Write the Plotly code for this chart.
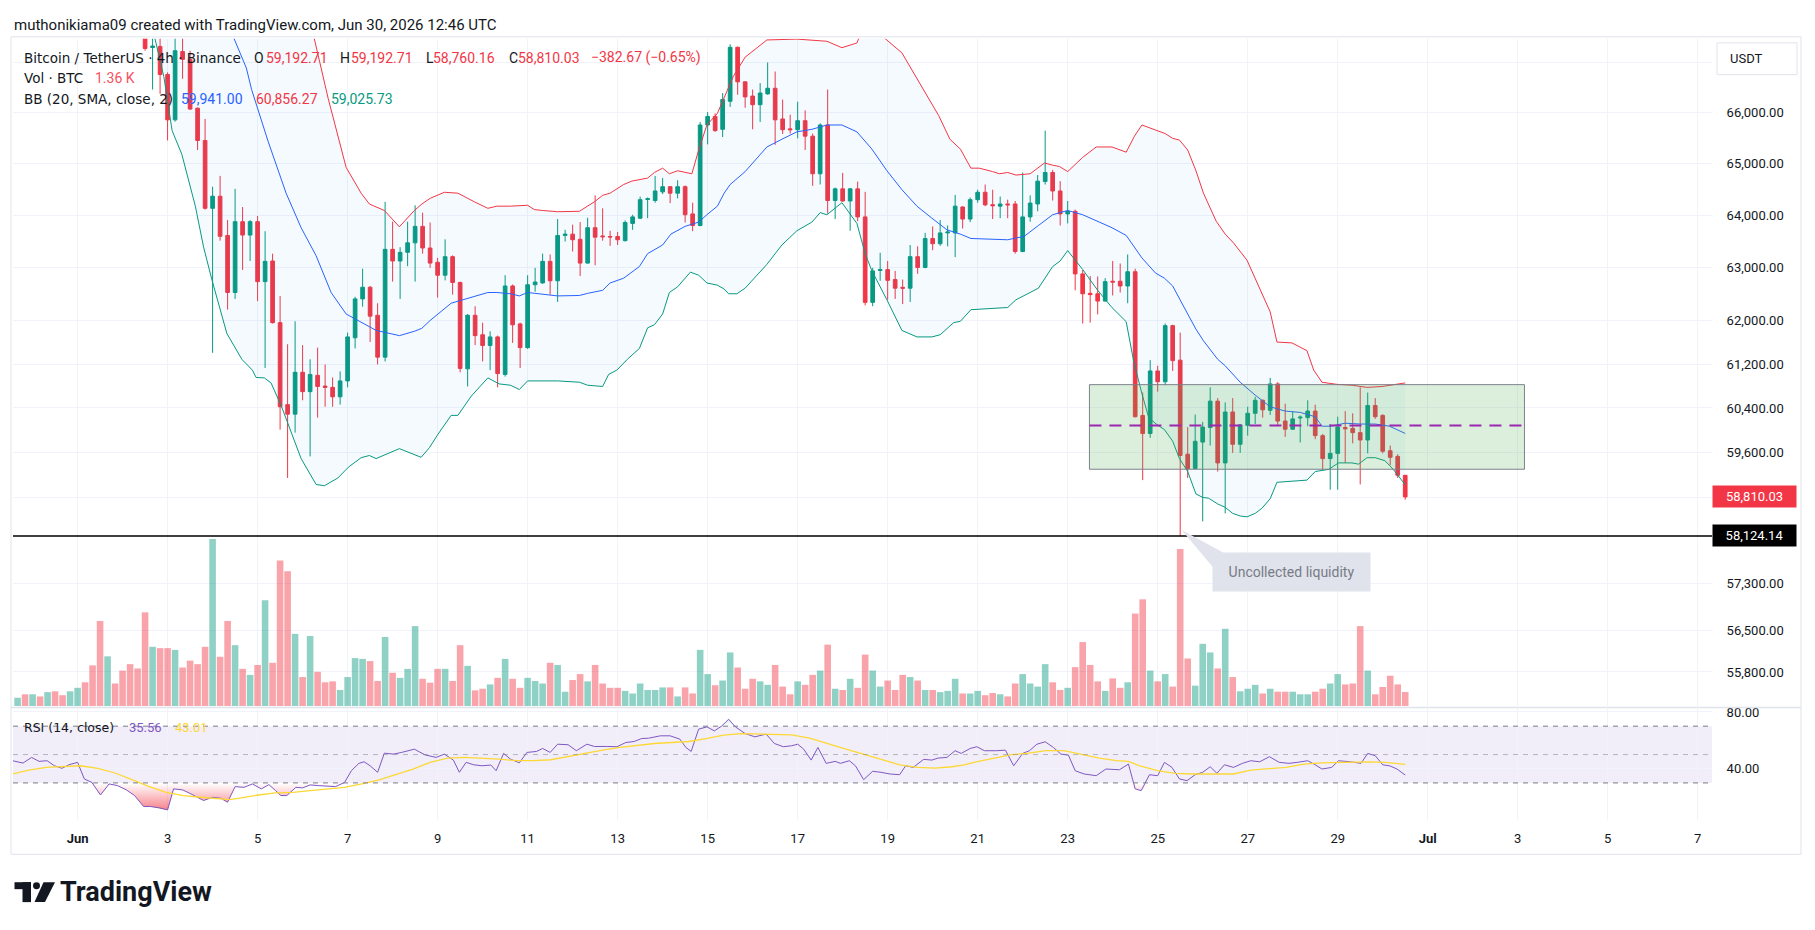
import math
import numpy as np
import pandas as pd
import plotly.graph_objects as go

W, H = 1815, 930
T0 = pd.Timestamp("2026-06-01 00:00:00")   # bar index 0
FIRST_BAR = -8                              # first 4h bar in view

# ---------------- BTC/USDT 4h candles (index -8 .. 177) ----------------
opens = [69900, 70150, 69950, 70300, 70100, 70400, 70200, 70050, 70250, 70500, 70300, 69800, 68700, 69100, 68900, 68500, 68200,
         67900, 67300, 67322, 66757, 65855, 67218, 67061, 66086, 65448, 64130, 64363, 63610, 62530, 63873, 63617,
         63873, 62734, 63124, 61967, 60461, 60289, 61051, 60697, 60995, 60799, 60775, 60603, 60893, 61686, 62410, 62628,
         62104, 61329, 63345, 63124, 63288, 63469, 63783, 63370, 63100, 62855, 63206, 62718, 61114, 62104, 61742,
         61543, 61702, 61011, 62652, 61943, 61504, 62676, 62710, 63117, 62750, 63610, 63634, 63535, 63084, 63758, 63600,
         63590, 63590, 63510, 63840, 63940, 64300, 64280, 64447, 64547, 64422, 64547, 64022, 63800, 65753, 65923, 65668,
         66223, 67304, 66610, 66327, 66155, 66370, 66482, 65872, 65677, 65660, 65838, 65533, 64798, 65753, 64280, 64505,
         64271, 64505, 63965, 62345, 62945, 62961, 62774, 62627, 62611, 63206, 63002, 63551, 63452, 63658, 63658,
         64155, 63923, 64296, 64439, 64200, 64171, 64213, 64213, 63304, 63965, 64213, 64647, 64823, 64464, 64022, 64072,
         62880, 62514, 62506, 62369, 62742, 62742, 62652, 62921, 60265, 59940, 61075, 60877, 61911, 61273, 59568, 59313,
         59785, 60047, 60524, 59413, 60327, 59746, 60086, 60304, 60540, 60359, 60838, 60164, 60016, 60219, 60226, 60344,
         59901, 59490, 59583, 60047, 60032, 59955, 59823, 60446, 60265, 59630, 59529, 59192.71]
highs = [70300, 70250, 70400, 70450, 70550, 70500, 70300, 70350, 70650, 70600, 70400, 69950, 69250, 69200, 69000, 68600, 68300,
         67950, 67700, 67650, 66800, 67600, 67496, 67235, 66100, 65872, 64547, 64756, 63906, 64505, 64154, 63906,
         63981, 63691, 63263, 62466, 61567, 61992, 61551, 61289, 61504, 61194, 60956, 61067, 61782, 62450, 62978, 62652,
         62329, 64255, 63873, 63386, 63873, 64188, 64046, 63857, 63182, 63535, 63230, 62734, 62128, 62273, 61967,
         61806, 61726, 62855, 62680, 61967, 62855, 62994, 63263, 63247, 63923, 63717, 63816, 63865, 63948, 64380, 64130,
         63700, 63676, 63898, 64006, 64355, 64338, 64756, 64714, 64560, 64672, 64572, 64238, 65813, 66009, 65983, 66387,
         67366, 67320, 66620, 66456, 66584, 66999, 66817, 66257, 65957, 66214, 66043, 65583, 65787, 66456, 64530, 64815,
         64522, 64647, 64447, 62994, 63280, 63124, 62937, 62774, 63427, 63403, 63658, 63783, 63906, 63800, 64388,
         64171, 64338, 64489, 64589, 64489, 64355, 64296, 64271, 64823, 64380, 64773, 65643, 64873, 64655, 64271, 64105,
         62953, 62839, 62831, 62799, 63124, 63076, 63247, 62978, 60681, 61273, 61170, 61951, 61930, 61782, 60055, 60281,
         60148, 60775, 60579, 60501, 60579, 60110, 60422, 60603, 60555, 60948, 60869, 60477, 60344, 60265, 60540, 60461,
         59932, 60110, 60242, 60344, 60304, 60775, 60681, 60579, 60289, 59723, 59568, 59192.71]
lows = [69800, 69850, 69850, 70000, 70000, 70100, 69950, 69950, 70150, 70200, 69700, 68500, 68600, 68800, 68400, 68100, 67800,
        67235, 66456, 66370, 65448, 65820, 66670, 66050, 65262, 64105, 61408, 63510, 62209, 62410, 62955, 63124,
        62369, 61130, 61950, 60009, 59145, 59955, 60540, 59529, 60226, 60422, 60422, 60461, 60775, 61488, 62265, 61607,
        61194, 61250, 62734, 62410, 63026, 62734, 63263, 62994, 62434, 62758, 62490, 61051, 60791, 61551, 61250,
        61091, 60775, 60972, 61591, 61130, 61480, 62546, 62694, 62490, 62353, 63494, 63304, 62839, 63076, 63043, 63510,
        63411, 63428, 63494, 63717, 63923, 63940, 64238, 64405, 64230, 64322, 63857, 63691, 63783, 65372, 65617, 65516,
        66111, 66353, 66094, 65668, 65813, 66353, 65363, 65575, 65583, 65490, 65262, 64564, 64589, 64030, 63923, 64255,
        63700, 63882, 62289, 62273, 62750, 62394, 62410, 62313, 62353, 62881, 62986, 63329, 63411, 63403, 63198,
        63742, 63865, 64238, 64171, 63923, 63940, 63940, 63263, 63290, 63873, 64072, 64589, 64280, 63800, 63840, 62571,
        61951, 61967, 62120, 62360, 62474, 62530, 62329, 60230, 59107, 59862, 60697, 60815, 61075, 58124.14, 59145, 59300,
        58380, 59723, 59259, 58520, 59592, 59592, 59901, 60110, 60226, 60273, 60086, 59878, 60008, 59778, 60071, 59839,
        59297, 58936, 58936, 59413, 59762, 59030, 59583, 60203, 59583, 59374, 59145, 58760.16]
closes = [70150, 69950, 70300, 70100, 70400, 70200, 70050, 70250, 70500, 70300, 69800, 68700, 69100, 68900, 68500, 68200, 67900,
          67280, 67330, 66757, 65855, 67235, 67061, 66069, 65448, 64130, 64363, 63593, 62530, 63873, 63617, 63873,
          62734, 63117, 61967, 60422, 60289, 61051, 60697, 61011, 60791, 60775, 60603, 60893, 61702, 62410, 62628, 62088,
          61329, 63345, 63124, 63288, 63469, 63783, 63370, 63084, 62855, 63206, 62718, 61122, 62104, 61726, 61543,
          61702, 61027, 62652, 61927, 61504, 62676, 62726, 63117, 62750, 63610, 63634, 63527, 63084, 63758, 63577, 63585,
          63580, 63527, 63857, 63965, 64296, 64313, 64464, 64547, 64422, 64547, 64006, 63800, 65753, 65923, 65643, 66257,
          67304, 66610, 66310, 66155, 66387, 66482, 65855, 65660, 65660, 65838, 65533, 64798, 65753, 64280, 64505, 64271,
          64505, 63965, 62345, 62937, 62961, 62758, 62611, 62611, 63206, 63002, 63551, 63452, 63658, 63675, 64171,
          63923, 64296, 64439, 64196, 64180, 64213, 64196, 63304, 63965, 64230, 64655, 64823, 64464, 64022, 64072, 62880,
          62506, 62490, 62369, 62734, 62726, 62652, 62921, 60242, 59940, 61075, 60877, 61911, 61265, 59545, 59313, 59800,
          60055, 60524, 59413, 60327, 59746, 60094, 60304, 60540, 60367, 60838, 60164, 60016, 60203, 60234, 60344, 59901,
          59490, 59583, 60055, 60024, 59955, 59823, 60446, 60242, 59622, 59513, 59192.71, 58810.03]
volume_k = [0.80, 1.14, 1.14, 0.93, 1.35, 1.43, 1.05, 1.43, 1.77, 2.31, 3.96, 8.29, 4.84, 2.19, 3.45, 4.08, 3.66,
            9.13, 5.77, 5.64, 5.64, 5.47, 3.75, 4.42, 4.08, 5.77, 16.29, 4.80, 8.29, 5.93, 3.62, 3.03,
            4.00, 10.31, 4.21, 14.18, 13.13, 7.03, 2.82, 6.82, 3.33, 2.31, 2.40, 1.56, 2.82, 4.67, 4.59, 4.38,
            2.44, 6.73, 3.24, 2.74, 3.62, 7.79, 2.65, 2.27, 3.62, 3.62, 2.44, 5.93, 3.91, 1.52, 1.68,
            2.10, 2.74, 4.59, 2.65, 1.77, 2.74, 2.44, 2.19, 4.21, 4.00, 1.39, 2.53, 3.11, 2.40, 4.00, 2.19,
            1.77, 1.77, 1.47, 1.22, 2.19, 1.56, 1.56, 1.81, 1.81, 0.93, 1.81, 1.22, 5.47, 3.11, 2.02, 2.48,
            5.22, 3.75, 1.68, 2.65, 2.40, 2.06, 4.00, 1.89, 1.14, 2.40, 2.06, 3.03, 3.45, 5.98, 1.68, 1.56,
            2.65, 1.77, 5.01, 3.45, 1.89, 2.48, 1.56, 3.03, 2.82, 2.48, 1.56, 1.56, 1.35, 1.47, 2.65,
            1.22, 1.22, 1.47, 1.05, 1.26, 1.14, 0.93, 2.19, 3.11, 2.19, 1.89, 4.08, 2.31, 1.56, 1.77, 3.79,
            6.23, 4.00, 2.40, 1.47, 2.69, 1.77, 2.31, 9.01, 10.40, 3.45, 2.40, 3.11, 1.89, 15.32, 4.63, 1.98,
            6.06, 5.22, 3.66, 7.53, 2.82, 1.43, 1.68, 2.06, 1.22, 1.68, 1.39, 1.39, 1.39, 1.14, 1.14, 1.39,
            1.68, 2.19, 3.11, 2.10, 2.19, 7.79, 3.45, 1.14, 1.85, 2.95, 2.10, 1.36]

# ---------------- Bollinger Bands (20, SMA, close, 2), read at bar positions ----------------
bb_upper_idx = [-8, 10, 20, 24, 28, 31.4, 33.4, 35.8, 37.8, 38.9, 40.9, 42.9, 44.9, 45.9, 47.0, 48.9, 50.7, 52.9, 54.7,
                55.9, 57.7, 60.0, 60.9, 62.0, 64.0, 66.9, 68.9, 70.0, 71.0, 72.8, 73.9, 76.0, 76.9, 78.0, 78.9, 80.0,
                81.9, 82.8, 83.9, 85.3, 86.2, 87.4, 89.0, 91.9, 95.9, 99.9, 101.9, 103.9, 104.3, 105.5, 106.4, 107.2,
                109.9, 111.9, 114.8, 116.3, 117.7, 119.1, 120.2, 122.0, 122.9, 124.0, 125.1, 127.0, 128.9, 130.0,
                130.9, 132.0, 134.0, 135.8, 137.9, 139.8, 140.9, 141.9, 145.0, 146.0, 146.9, 148.0, 149.1, 150.1,
                151.8, 153.0, 154.1, 155.9, 157.9, 159.0, 159.9, 161.9, 163.9, 164.8, 165.9, 167.9, 169.9, 171.9,
                173.9, 175.9, 177]
bb_upper_val = [71000, 71500, 71800, 71000, 69700, 67583, 66284, 64923, 64422, 64213, 64088, 63775, 64088, 64213, 64322,
                64439, 64422, 64255, 64130, 64171, 64171, 64188, 64105, 64088, 64064, 64072, 64255, 64380, 64422, 64589,
                64656, 64714, 64823, 64907, 64798, 64857, 64798, 65262, 65753, 65983, 66284, 66713, 67105, 67453, 67470,
                67426, 67296, 67392, 67540, 67900, 67850, 67540, 67192, 66670, 65940, 65473, 65279, 64907, 64907, 64840,
                64798, 64823, 64773, 64798, 65007, 64965, 64940, 64840, 65118, 65321, 65321, 65219, 65533, 65753, 65584,
                65490, 65457, 65262, 64857, 64422, 63882, 63635, 63469, 63141, 62490, 62168, 61607, 61591, 61448, 61091,
                60869, 60830, 60814, 60775, 60791, 60838, 60856.27]
bb_mid_idx = [-8, 12, 17, 20.6, 22.5, 23.2, 25.4, 27.8, 29.8, 31.8, 33.8, 35.8, 37.8, 39.8, 42.9, 44.9, 45.9, 47.0, 49.8,
              54.7, 55.9, 57.7, 58.9, 60.0, 64.0, 66.9, 68.0, 70.0, 71.0, 72.8, 74.9, 76.0, 78.0, 79.1, 81.0, 82.8, 83.9,
              85.3, 86.2, 87.0, 89.0, 91.9, 93.9, 95.9, 97.9, 99.9, 101.9, 103.9, 105.9, 107.9, 109.9, 111.9, 113.9,
              115.9, 117.7, 119.1, 124.0, 126.2, 128.1, 130.0, 132.0, 134.0, 137.9, 139.8, 141.9, 143.7, 144.9, 146.0,
              148.0, 149.1, 150.1, 152.0, 153.0, 155.0, 157.0, 159.0, 161.0, 163.0, 165.0, 165.9, 167.0, 169.0, 171.0,
              173.0, 174.9, 177]
bb_mid_val = [70100, 69800, 68900, 67583, 66887, 66456, 65431, 64422, 63758, 63223, 62530, 62128, 61968, 61823, 61726,
              61806, 61862, 62007, 62329, 62530, 62530, 62506, 62466, 62530, 62466, 62474, 62514, 62571, 62709, 62799,
              63019, 63264, 63428, 63635, 63784, 63865, 64006, 64171, 64422, 64589, 64840, 65321, 65473, 65618, 65668,
              65753, 65753, 65618, 65279, 64857, 64489, 64171, 63940, 63717, 63635, 63552, 63527, 63593, 63800, 64006,
              64088, 64006, 63758, 63610, 63182, 62897, 62799, 62652, 62128, 61846, 61631, 61289, 61170, 60869, 60634,
              60422, 60344, 60320, 60242, 60071, 60071, 60125, 60110, 60110, 60071, 59941.00]
bb_lower_idx = [-8, 4, 8, 10.2, 11.5, 12.6, 13.9, 15.7, 16.8, 17.9, 19.9, 21.9, 23.3, 23.8, 24.9, 25.8, 27.2, 29.8, 31.8,
                32.9, 34.7, 36.1, 37.8, 38.9, 39.8, 42.9, 45.8, 46.9, 48.0, 49.8, 50.7, 52.5, 54.7, 56.2, 57.7, 58.9,
                60.0, 64.0, 66.9, 68.0, 70.0, 70.8, 71.9, 73.3, 74.9, 76.0, 76.9, 78.0, 78.9, 80.0, 81.7, 82.8, 83.9,
                85.3, 86.2, 86.8, 87.9, 89.0, 91.9, 93.9, 95.9, 97.9, 99.0, 99.9, 101.9, 103.9, 105.0, 105.9, 107.9,
                109.9, 111.9, 113.9, 115.0, 116.8, 117.7, 119.1, 124.0, 125.1, 126.7, 128.1, 130.0, 131.0, 132.0,
                134.0, 136.0, 137.9, 139.8, 140.8, 141.9, 142.8, 143.8, 144.9, 146.0, 146.9, 148.0, 149.1, 150.0,
                150.8, 152.0, 153.0, 154.0, 155.0, 155.9, 157.0, 157.9, 159.0, 159.9, 161.9, 163.9, 165.0, 166.8,
                168.1, 169.9, 170.8, 171.9, 173.0, 174.3, 175.4, 177]
bb_lower_val = [69400, 69600, 69000, 67583, 66713, 65643, 65177, 64171, 63386, 62775, 61766, 61289, 61091, 60956, 60948,
                60854, 60422, 59490, 59030, 59007, 59145, 59336, 59506, 59545, 59490, 59668, 59513, 59684, 59916, 60266,
                60266, 60618, 60948, 60838, 60814, 60736, 60893, 60893, 60869, 60814, 60791, 61011, 61091, 61289, 61488,
                61871, 61927, 62128, 62530, 62636, 62913, 62855, 62709, 62668, 62595, 62506, 62506, 62611, 63060, 63428,
                63700, 63865, 64047, 64006, 64238, 63840, 63264, 62937, 62393, 61822, 61702, 61702, 61742, 61967, 61992,
                62208, 62249, 62393, 62506, 62611, 63019, 63125, 63321, 62962, 62571, 62249, 61984, 61250, 60658, 60227,
                60109, 60009, 59800, 59490, 59259, 58862, 58801, 58786, 58686, 58626, 58520, 58474, 58459, 58520, 58610,
                58778, 59068, 59091, 59107, 59259, 59298, 59413, 59413, 59390, 59506, 59506, 59452, 59298, 59025.73]

# ---------------- RSI (14, close) and its MA ----------------
rsi_idx = [-8.66, -7.28, -6.13, -5.14, -4.07, -3.08, -2.08, -1.16, 0, 0.9, 1.9, 3.05, 4.2, 5.34, 6.5, 7.6, 8.8, 9.7,
           10.9, 12.0, 12.8, 14.0, 15.1, 16.8, 18.0, 19.1, 20.0, 21.0, 22.2, 23.3, 24.5, 25.5, 26.4, 27.1, 27.9, 29.1,
           30.0, 31.0, 32.1, 33.3, 34.4, 35.6, 36.5, 37.5, 38.2, 39.0, 40.0, 40.9, 42.1, 43.2, 44.9, 46.3, 47.8, 48.9,
           50.1, 50.9, 51.8, 52.8, 53.9, 55.1, 55.8, 56.8, 57.7, 58.9, 59.9, 61.2, 62.0, 63.0, 64.0, 65.4, 66.5, 67.9,
           68.9, 70.7, 71.9, 73.1, 74.2, 75.2, 76.1, 77.7, 79.0, 80.3, 81.1, 81.8, 82.8, 83.9, 84.9, 85.9, 86.8, 87.7,
           89.0, 90.3, 91.8, 92.9, 94.1, 95.2, 96.0, 96.8, 97.8, 98.7, 99.8, 101.0, 101.7, 102.9, 103.7, 104.8, 106.0,
           107.1, 108.3, 109.6, 110.4, 111.4, 112.8, 113.9, 114.7, 115.9, 117.0, 117.8, 119.0, 119.9, 120.9, 122.5,
           123.7, 124.8, 126.0, 126.9, 127.9, 129.0, 130.1, 131.1, 132.1, 133.0, 134.2, 135.8, 137.1, 138.9, 140.1,
           141.0, 141.8, 142.9, 144.0, 144.9, 145.9, 146.9, 147.9, 149.0, 150.0, 151.0, 151.9, 152.9, 154.1, 155.3,
           156.4, 157.6, 158.9, 160.2, 161.5, 162.6, 164.0, 165.0, 165.9, 167.2, 168.1, 169.7, 171.1, 172.0, 173.0,
           174.0, 175.0, 175.9, 177]
rsi_val = [45.65, 44.0, 48.0, 45.2, 45.65, 42.1, 40.3, 42.8, 44.5, 32.8, 30.4, 21.5, 29.3, 28.1, 25.1, 21.1, 13.4, 13.4,
           12.4, 11.0, 25.8, 25.1, 22.3, 17.6, 19.9, 19.2, 16.4, 27.4, 26.9, 29.3, 25.8, 28.8, 24.6, 21.1, 21.1, 26.9,
           26.5, 28.6, 28.1, 27.6, 27.4, 30.4, 38.6, 43.8, 44.9, 42.1, 37.5, 51.0, 50.3, 51.5, 53.8, 49.8, 48.0, 50.3,
           46.1, 37.5, 44.5, 42.8, 42.1, 42.6, 38.6, 50.8, 46.8, 44.2, 51.5, 52.2, 54.3, 51.5, 57.3, 56.9, 52.7, 57.3,
           55.7, 55.7, 55.5, 58.5, 59.2, 61.3, 61.5, 63.2, 63.2, 60.85, 55.0, 52.2, 67.9, 69.5, 66.7, 70.2, 74.9, 69.5,
           64.8, 62.5, 64.4, 57.8, 55.5, 56.2, 57.3, 53.8, 46.1, 55.0, 43.8, 45.2, 43.8, 45.65, 42.1, 32.3, 38.2,
           37.5, 36.3, 35.8, 42.1, 40.95, 46.6, 46.1, 47.5, 48.0, 52.7, 50.8, 54.3, 55.5, 52.7, 52.7,
           53.1, 42.1, 50.8, 52.7, 57.3, 59.0, 55.0, 50.3, 49.6, 38.6, 36.3, 35.1, 39.8, 39.3, 43.3,
           25.8, 24.6, 35.8, 35.1, 44.5, 40.95, 32.8, 31.6, 35.8, 37.5, 41.4, 36.8, 42.8, 40.95, 43.8,
           45.65, 44.9, 48.5, 44.5, 43.8, 44.5, 45.65, 42.8, 39.8, 40.95, 45.65, 44.9, 43.8, 50.8, 49.2,
           42.8, 41.9, 39.8, 35.56]
rsi_ma_idx = [-8.66, -6.5, -4.2, -1.9, 0.37, 2.7, 5.0, 7.25, 9.55, 11.8, 14.1, 16.4, 18.7, 20.3, 21.8, 24.1, 26.4, 28.7,
              31.0, 33.3, 35.6, 37.9, 40.2, 42.4, 44.7, 47.0, 49.3, 51.6, 53.9, 56.2, 58.5, 60.8, 63.1, 65.4, 67.7, 70.0,
              72.3, 74.6, 76.9, 79.2, 81.5, 83.8, 86.1, 88.4, 90.7, 92.9, 95.2, 97.6, 99.8, 102.1, 104.4, 106.7, 109.6,
              112.0, 114.3, 116.6, 118.2, 119.8, 122.1, 124.5, 126.8, 129.1, 131.5, 133.8, 136.2, 138.5, 140.1, 141.6,
              144.0, 146.3, 148.6, 151.8, 154.1, 156.4, 158.8, 161.1, 163.5, 165.8, 168.9, 172.0, 174.3, 177]
rsi_ma_val = [36.3, 39.1, 40.95, 41.7, 42.1, 40.25, 37.0, 32.3, 27.4, 23.4, 21.1, 19.9, 18.7, 18.3, 19.4, 21.5, 22.95, 23.4,
              24.6, 25.8, 26.9, 29.3, 32.1, 35.8, 39.8, 44.5, 47.5, 48.0, 47.5, 46.8, 45.65, 45.65, 46.35, 48.7, 51.0,
              53.1, 55.0, 56.6, 57.8, 58.5, 59.2, 61.3, 63.65, 64.8, 64.4, 63.9, 63.9, 61.55, 57.8, 54.3, 50.8, 47.5,
              42.8, 40.95, 40.5, 41.4, 42.8, 44.9, 47.5, 49.9, 51.0, 52.7, 52.7, 50.3, 47.5, 45.65, 45.2, 42.1, 38.6,
              36.75, 36.3, 36.3, 36.3, 39.1, 40.25, 40.95, 43.3, 44.2, 44.5, 44.9, 44.5, 43.01]

# ---------------- drawings ----------------
zone_start_idx, zone_end_idx = 134.9, 192.9
zone_top, zone_bottom, zone_mid = 60825, 59300, 60084
liquidity_level = 58124.14
callout_tip = (147.2, 58228)
callout_base = [(152.3, 57440), (152.77, 57834)]
callout_center = (161.85, 57508)

day_ticks = ["2026-06-%02d" % d for d in range(1, 31, 2)] + ["2026-07-01", "2026-07-03", "2026-07-05", "2026-07-07"]
day_labels = ["<b>Jun</b>"] + [str(d) for d in range(3, 31, 2)] + ["<b>Jul</b>", "3", "5", "7"]
price_ticks = [55800, 56500, 57300, 58800, 59600, 60400, 61200, 62000, 63000, 64000, 65000, 66000, 67000]
hidden_price_labels = [58800, 67000]   # covered by the price box / currency box in the original

# ---------------- layout constants ----------------
PRICE_TOP, PRICE_BOTTOM = 67475, 55234
VOL_MAX = 65.06
RSI_LO, RSI_HI = 3.54, 82.14
VIEW_L, VIEW_R = -8.61, 217.9
UP, DOWN = "#089981", "#F23645"
GRID = "#f0f3fa"
TXT = "#131722"
WIDE = "DejaVu Sans, sans-serif"


def t(i):
    return (T0 + pd.Timedelta(hours=4 * i)).strftime("%Y-%m-%d %H:%M:%S")


def px(x):
    return x / W


def py(y):
    return 1 - y / H


bar_x = [t(FIRST_BAR + k) for k in range(len(opens))]
vol_colors = ["rgba(8,153,129,0.45)" if c >= o else "rgba(242,54,69,0.45)" for o, c in zip(opens, closes)]

fig = go.Figure()

# volume (base axis, drawn beneath price)
fig.add_trace(go.Bar(x=bar_x, y=volume_k, marker=dict(color=vol_colors, line=dict(width=0)),
                     xaxis="x", yaxis="y", hoverinfo="skip"))

# Bollinger bands
fig.add_trace(go.Scatter(x=[t(i) for i in bb_lower_idx], y=bb_lower_val, mode="lines",
                         line=dict(color=UP, width=1), yaxis="y2", hoverinfo="skip"))
fig.add_trace(go.Scatter(x=[t(i) for i in bb_upper_idx], y=bb_upper_val, mode="lines",
                         line=dict(color=DOWN, width=1), fill="tonexty", fillcolor="rgba(33,150,243,0.05)",
                         yaxis="y2", hoverinfo="skip"))
fig.add_trace(go.Scatter(x=[t(i) for i in bb_mid_idx], y=bb_mid_val, mode="lines",
                         line=dict(color="#2962FF", width=1), yaxis="y2", hoverinfo="skip"))

# consolidation zone
fig.add_trace(go.Scatter(
    x=[t(zone_start_idx), t(zone_end_idx), t(zone_end_idx), t(zone_start_idx), t(zone_start_idx)],
    y=[zone_top, zone_top, zone_bottom, zone_bottom, zone_top], mode="lines", fill="toself",
    fillcolor="rgba(76,175,80,0.2)", line=dict(color="rgba(120,123,134,0.95)", width=1),
    yaxis="y2", hoverinfo="skip"))

# liquidity level
fig.add_trace(go.Scatter(x=[t(VIEW_L), t(VIEW_R)], y=[liquidity_level, liquidity_level], mode="lines",
                         line=dict(color="#000000", width=1.5), yaxis="y2", hoverinfo="skip"))

# candles
fig.add_trace(go.Candlestick(
    x=bar_x, open=opens, high=highs, low=lows, close=closes, yaxis="y2", whiskerwidth=0,
    increasing=dict(line=dict(color=UP, width=1), fillcolor=UP),
    decreasing=dict(line=dict(color=DOWN, width=1), fillcolor=DOWN),
    hoverinfo="none"))

# dashed mid line of the zone
fig.add_trace(go.Scatter(x=[t(zone_start_idx), t(zone_end_idx)], y=[zone_mid, zone_mid], mode="lines",
                         line=dict(color="#9C27B0", width=2, dash="12px,8px"), yaxis="y2", hoverinfo="skip"))

# callout tail
fig.add_trace(go.Scatter(
    x=[t(callout_tip[0]), t(callout_base[0][0]), t(callout_base[1][0]), t(callout_tip[0])],
    y=[callout_tip[1], callout_base[0][1], callout_base[1][1], callout_tip[1]],
    mode="lines", fill="toself", fillcolor="#e0e3eb", line=dict(width=0, color="#e0e3eb"),
    yaxis="y2", hoverinfo="skip"))

# RSI fills
rsi_x = [t(i) for i in rsi_idx]
rsi_arr = np.array(rsi_val)
fig.add_trace(go.Scatter(x=rsi_x, y=[30] * len(rsi_x), mode="lines", line=dict(width=0), yaxis="y3", hoverinfo="skip"))
fig.add_trace(go.Scatter(x=rsi_x, y=np.minimum(rsi_arr, 30), mode="lines", line=dict(width=0), fill="tonexty",
                         fillgradient=dict(type="vertical", start=0, stop=30,
                                           colorscale=[[0, "rgba(242,54,69,1)"], [1, "rgba(242,54,69,0)"]]),
                         yaxis="y3", hoverinfo="skip"))
fig.add_trace(go.Scatter(x=rsi_x, y=[70] * len(rsi_x), mode="lines", line=dict(width=0), yaxis="y3", hoverinfo="skip"))
fig.add_trace(go.Scatter(x=rsi_x, y=np.maximum(rsi_arr, 70), mode="lines", line=dict(width=0), fill="tonexty",
                         fillgradient=dict(type="vertical", start=70, stop=100,
                                           colorscale=[[0, "rgba(8,153,129,0)"], [1, "rgba(8,153,129,1)"]]),
                         yaxis="y3", hoverinfo="skip"))
fig.add_trace(go.Scatter(x=rsi_x, y=rsi_val, mode="lines", line=dict(color="#7E57C2", width=1),
                         yaxis="y3", hoverinfo="skip"))
fig.add_trace(go.Scatter(x=[t(i) for i in rsi_ma_idx], y=rsi_ma_val, mode="lines",
                         line=dict(color="#FDD835", width=1.3), yaxis="y3", hoverinfo="skip"))

# ---------------- shapes ----------------
shapes = [
    dict(type="rect", xref="paper", yref="paper", x0=px(11), x1=px(1801), y0=py(854), y1=py(33),
         line=dict(color="#e0e3eb", width=1), fillcolor="rgba(0,0,0,0)", layer="above"),
    dict(type="line", xref="paper", yref="paper", x0=px(11), x1=px(1801), y0=py(706.5), y1=py(706.5),
         line=dict(color="#e0e3eb", width=1.5)),
    dict(type="rect", xref="x domain", yref="y3", x0=0, x1=1, y0=30, y1=70,
         fillcolor="rgba(126,87,194,0.1)", line=dict(width=0), layer="below"),
    dict(type="line", xref="x domain", yref="y3", x0=0, x1=1, y0=70, y1=70,
         line=dict(color="#787B86", width=1, dash="5px,5px")),
    dict(type="line", xref="x domain", yref="y3", x0=0, x1=1, y0=50, y1=50,
         line=dict(color="rgba(120,123,134,0.5)", width=1, dash="5px,5px")),
    dict(type="line", xref="x domain", yref="y3", x0=0, x1=1, y0=30, y1=30,
         line=dict(color="#787B86", width=1, dash="5px,5px")),
    # USDT box
    dict(type="rect", xref="paper", yref="paper", x0=px(1717), x1=px(1797), y0=py(71), y1=py(39),
         line=dict(color="#e0e3eb", width=1), fillcolor="white", layer="above"),
    # TradingView logo mark
    dict(type="rect", xref="paper", yref="paper", x0=px(14.5), x1=px(31), y0=py(889), y1=py(882),
         line=dict(width=0), fillcolor=TXT),
    dict(type="rect", xref="paper", yref="paper", x0=px(22.5), x1=px(31), y0=py(902), y1=py(882),
         line=dict(width=0), fillcolor=TXT),
    dict(type="circle", xref="paper", yref="paper", x0=px(33), x1=px(40), y0=py(889), y1=py(882),
         line=dict(width=0), fillcolor=TXT),
    dict(type="path", xref="paper", yref="paper",
         path="M %f,%f L %f,%f L %f,%f L %f,%f Z" % (px(43.5), py(882), px(55), py(882), px(45), py(902), px(34.5), py(902)),
         line=dict(width=0), fillcolor=TXT),
]


def label(text, x, y, color=TXT, size=13, anchor="left", family=None):
    f = dict(size=size, color=color)
    if family:
        f["family"] = family
    return dict(text=text, x=px(x), y=py(y), xref="paper", yref="paper", xanchor=anchor, yanchor="middle",
                showarrow=False, font=f)


annotations = [
    label("muthonikiama09 created with TradingView.com, Jun 30, 2026 12:46 UTC", 12, 21, size=15),
    label("Bitcoin / TetherUS · 4h · Binance", 22, 54, size=13.5, family=WIDE),
    label("O", 252, 54, size=14), label(f"{opens[-1]:,.2f}", 264, 54, DOWN, 14),
    label("H", 338, 54, size=14), label(f"{highs[-1]:,.2f}", 349, 54, DOWN, 14),
    label("L", 424, 54, size=14), label(f"{lows[-1]:,.2f}", 431, 54, DOWN, 14),
    label("C", 507, 54, size=14), label(f"{closes[-1]:,.2f}", 516, 54, DOWN, 14),
    label("−382.67 (−0.65%)", 589, 54, DOWN, 14),
    label("Vol · BTC", 22, 74, size=13.5, family=WIDE), label("1.36 K", 93, 74, "#F7525F", 14),
    label("BB (20, SMA, close, 2)", 22, 95, size=13.5, family=WIDE),
    label(f"{bb_mid_val[-1]:,.2f}", 179, 95, "#2962FF", 14),
    label(f"{bb_upper_val[-1]:,.2f}", 254, 95, DOWN, 14),
    label(f"{bb_lower_val[-1]:,.2f}", 329, 95, UP, 14),
    label("RSI (14, close)", 22, 727, size=12.5, family=WIDE),
    label(f"{rsi_val[-1]:.2f}", 127, 727, "#7E57C2", 13),
    label(f"{rsi_ma_val[-1]:.2f}", 173, 727, "#FDD835", 13),
    label("USDT", 1728, 55, size=13),
    label("<b>TradingView</b>", 58, 892, size=27),
    dict(text=f"{closes[-1]:,.2f}", xref="paper", x=px(1754.5), xanchor="center", yref="y2",
         y=math.log10(closes[-1]), yanchor="middle",
         showarrow=False, bgcolor=DOWN, font=dict(color="white", size=13), width=79, height=17, borderpad=2),
    dict(text=f"{liquidity_level:,.2f}", xref="paper", x=px(1754.5), xanchor="center", yref="y2",
         y=math.log10(liquidity_level), yanchor="middle",
         showarrow=False, bgcolor="#000000", font=dict(color="white", size=13), width=79, height=17, borderpad=2),
    dict(text="Uncollected liquidity", xref="x", x=t(callout_center[0]), xanchor="center", yref="y2",
         y=math.log10(callout_center[1]), yanchor="middle", showarrow=False, bgcolor="#e0e3eb",
         font=dict(color="#787B86", size=14), width=149, height=30, borderpad=4),
]

fig.update_layout(
    width=W, height=H, autosize=False, margin=dict(l=0, r=0, t=0, b=0),
    paper_bgcolor="white", plot_bgcolor="white", showlegend=False, hovermode=False,
    font=dict(family="Roboto, sans-serif", size=13, color=TXT),
    bargap=0.12,
    xaxis=dict(type="date", domain=[px(13), px(1712)], range=[t(VIEW_L), t(VIEW_R)], anchor="y3",
               tickvals=day_ticks, ticktext=day_labels, showgrid=True, gridcolor=GRID, gridwidth=1,
               zeroline=False, showline=False, ticks="outside", ticklen=6, tickcolor="rgba(0,0,0,0)",
               tickfont=dict(size=13, color=TXT), rangeslider=dict(visible=False), fixedrange=True),
    yaxis=dict(domain=[py(705), py(35)], range=[0, VOL_MAX], visible=False, fixedrange=True),
    yaxis2=dict(overlaying="y", side="right", anchor="x", type="log",
                range=[math.log10(PRICE_BOTTOM), math.log10(PRICE_TOP)],
                tickvals=price_ticks,
                ticktext=["" if v in hidden_price_labels else f"{v:,.2f}" for v in price_ticks],
                showgrid=True, gridcolor=GRID, zeroline=False, showline=False,
                ticks="outside", ticklen=0, ticklabelstandoff=11, tickfont=dict(size=13, color=TXT),
                fixedrange=True),
    yaxis3=dict(domain=[py(820), py(708)], range=[RSI_LO, RSI_HI], side="right", anchor="x",
                tickvals=[40, 80], ticktext=["40.00", "80.00"], showgrid=True, gridcolor=GRID,
                zeroline=False, showline=False, ticks="outside", ticklen=0, ticklabelstandoff=11,
                tickfont=dict(size=13, color=TXT), fixedrange=True),
    shapes=shapes, annotations=annotations,
)

fig.write_html("out.html", config={"displayModeBar": False})
